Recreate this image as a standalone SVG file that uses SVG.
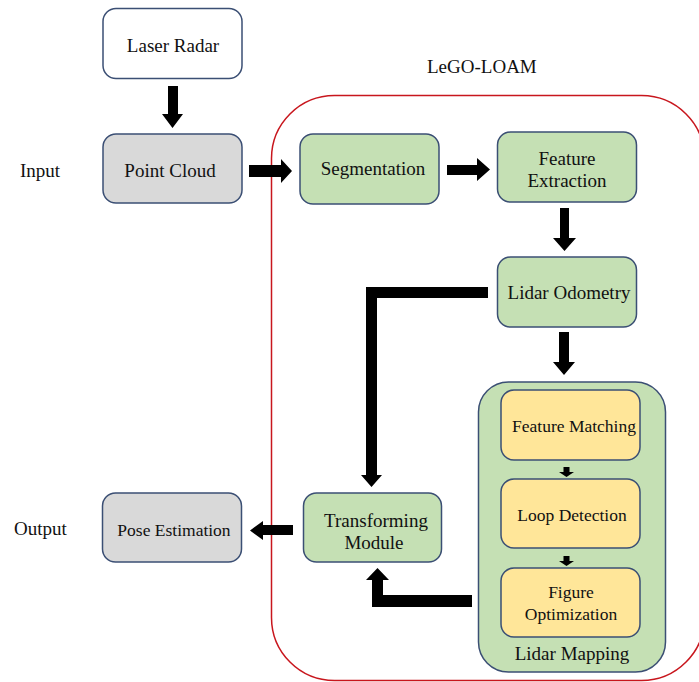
<svg xmlns="http://www.w3.org/2000/svg" width="699" height="682" viewBox="0 0 699 682">
<style>
.box{stroke:#3b4f74;stroke-width:1.5}
.fw{fill:#ffffff}
.fg{fill:#d9d9d9}
.fgr{fill:#c5e0b4}
.fy{fill:#ffe699}
.arr{fill:#000}
text{font-family:"Liberation Serif","Times New Roman",serif;font-size:19px;fill:#111}
.c{text-anchor:middle}
.s{font-size:17.5px}
</style>
<rect width="699" height="682" fill="#ffffff"/>
<g id="lego-loam">
<rect x="271.5" y="95.5" width="433" height="585" rx="63" ry="63" fill="none" stroke="#c8161d" stroke-width="1.5"/>
<text x="427" y="73">LeGO-LOAM</text>
</g>
<g id="labels">
<text x="20" y="177">Input</text>
<text x="14" y="535">Output</text>
</g>
<g id="laser-radar">
<rect class="box fw" x="103" y="8.5" width="139" height="70" rx="13"/>
<text class="c" x="173" y="52">Laser Radar</text>
</g>
<g id="point-cloud">
<rect class="box fg" x="103" y="134" width="139" height="69" rx="13"/>
<text class="c" x="170" y="177">Point Cloud</text>
</g>
<g id="segmentation">
<rect class="box fgr" x="300" y="134" width="139" height="70" rx="13"/>
<text class="c" x="373" y="175">Segmentation</text>
</g>
<g id="feature-extraction">
<rect class="box fgr" x="497.5" y="132" width="139" height="70" rx="13"/>
<text class="c" x="567" y="165">Feature</text>
<text class="c" x="567" y="187">Extraction</text>
</g>
<g id="lidar-odometry">
<rect class="box fgr" x="497.5" y="257" width="139" height="70" rx="13"/>
<text class="c" x="569" y="299">Lidar Odometry</text>
</g>
<g id="lidar-mapping">
<rect class="box fgr" x="478.5" y="382" width="187" height="290" rx="30"/>
<text class="c" x="572" y="660">Lidar Mapping</text>
</g>
<g id="feature-matching">
<rect class="box fy" x="501" y="390" width="139" height="70" rx="13"/>
<text class="c s" x="574" y="432">Feature Matching</text>
</g>
<g id="loop-detection">
<rect class="box fy" x="501" y="479" width="139" height="69" rx="13"/>
<text class="c s" x="572" y="521">Loop Detection</text>
</g>
<g id="figure-optimization">
<rect class="box fy" x="501" y="568" width="139" height="69" rx="13"/>
<text class="c s" x="571" y="598">Figure</text>
<text class="c s" x="571" y="620">Optimization</text>
</g>
<g id="transforming-module">
<rect class="box fgr" x="303.5" y="493" width="138" height="69" rx="13"/>
<text class="c" x="376" y="527">Transforming</text>
<text class="c" x="374" y="549">Module</text>
</g>
<g id="pose-estimation">
<rect class="box fg" x="102.5" y="493" width="139" height="69" rx="13"/>
<text class="c s" x="174" y="536">Pose Estimation</text>
</g>
<g id="connectors" class="arr">
<polygon points="168,86 178,86 178,114 183,114 172.5,128 162,114 168,114"/>
<polygon points="249,165 281,165 281,159 292,171 281,183 281,177 249,177"/>
<polygon points="447,165 477,165 477,158 490,169.5 477,181 477,175 447,175"/>
<polygon points="560,208 569,208 569,238 576,238 564.5,251 553,238 560,238"/>
<polygon points="559,332 569,332 569,362 575,362 564,375 553,362 559,362"/>
<polygon points="488,287 488,298 377,298 377,475 382,475 371.5,487 361,475 366,475 366,287"/>
<polygon points="293,525 293,535 263,535 263,540 250,530.5 263,521 263,525"/>
<polygon points="472,595 472,607 372,607 372,580 366,580 377.5,568 389,580 383,580 383,595"/>
<polygon points="563.5,467 569.5,467 569.5,472 574,472 566.5,477 559,472 563.5,472"/>
<polygon points="563.5,556 569.5,556 569.5,561 574,561 566.5,566 559,561 563.5,561"/>
</g>
</svg>
